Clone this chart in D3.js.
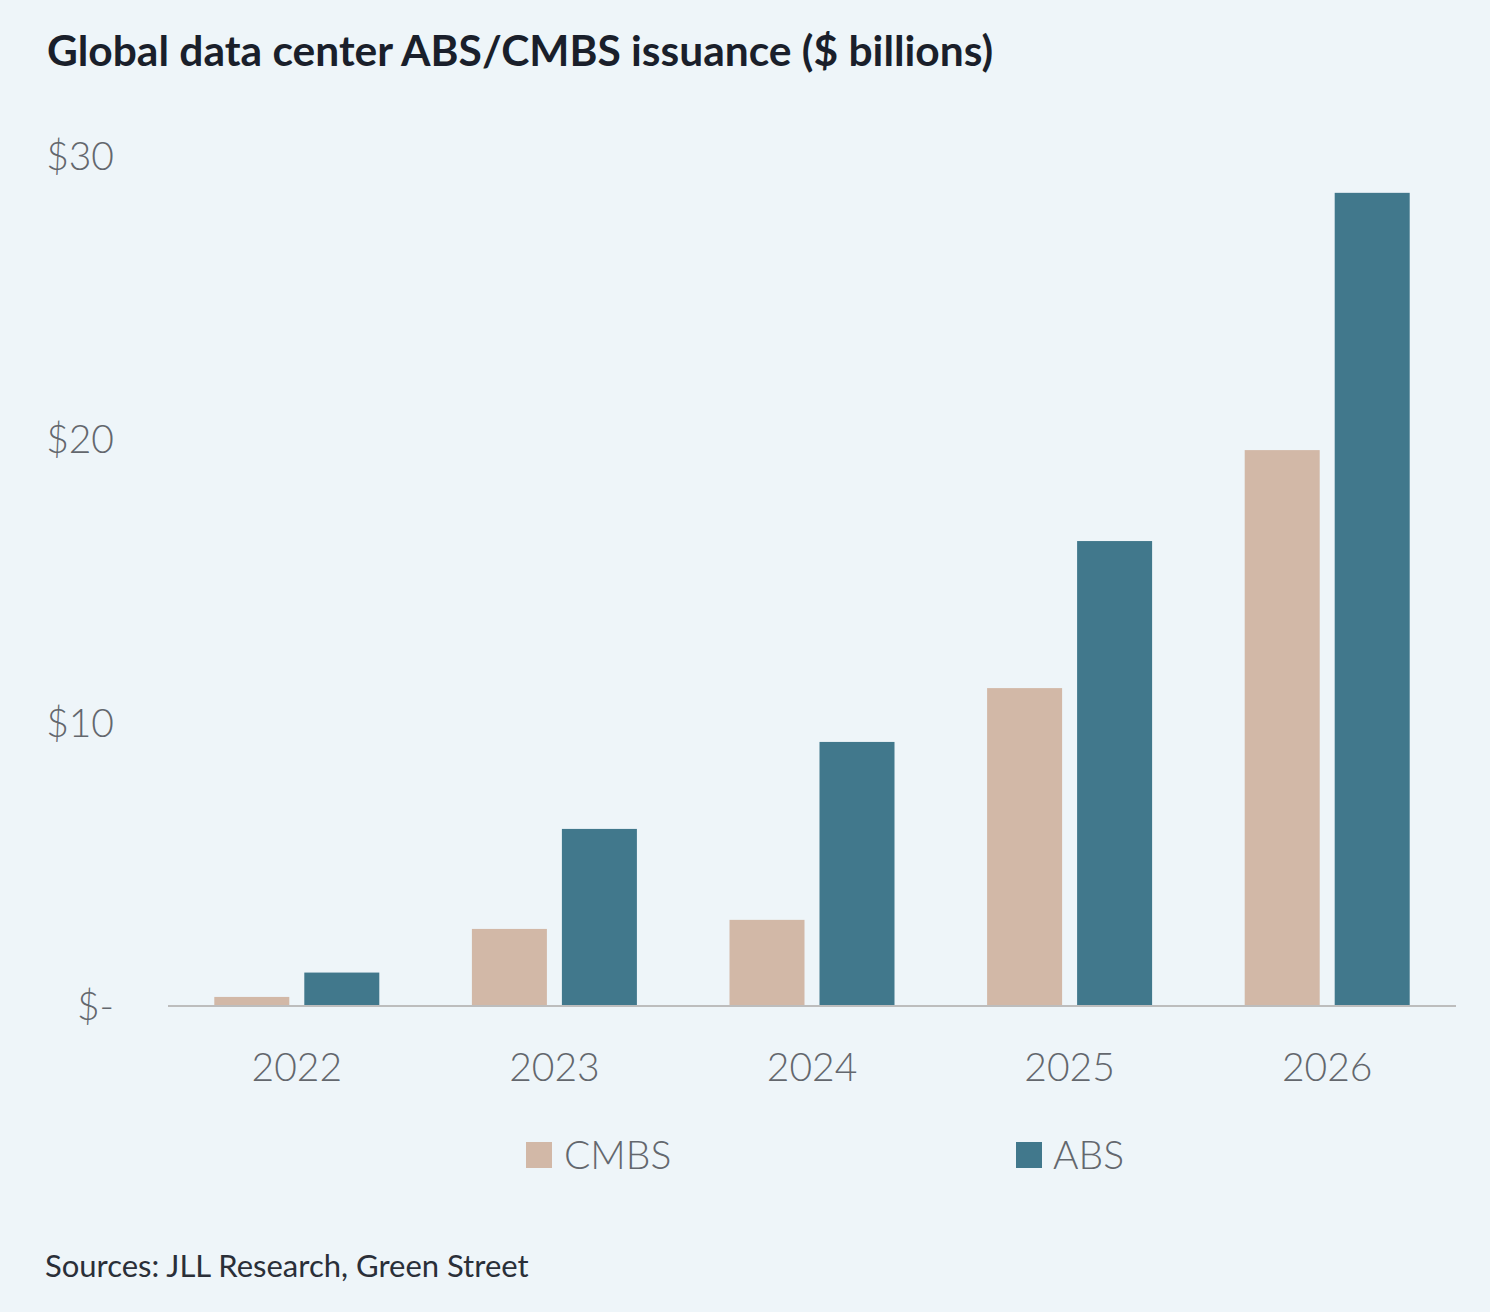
<!DOCTYPE html>
<html>
<head>
<meta charset="utf-8">
<script src="https://cdn.jsdelivr.net/npm/d3@7"></script>
<style>
  html, body { margin: 0; padding: 0; background: #eef5f9; }
  svg { display: block; }
</style>
</head>
<body>
<svg id="chart" width="1490" height="1312"></svg>
<script>
const years = ["2022", "2023", "2024", "2025", "2026"];
const seriesNames = ["CMBS", "ABS"];
const cmbsValues = [0.32, 2.72, 3.04, 11.22, 19.62];
const absValues = [1.18, 6.25, 9.32, 16.41, 28.7];
const yTicks = [0, 10, 20, 30];
const titleText = "Global data center ABS/CMBS issuance ($ billions)";
const sourceText = "Sources: JLL Research, Green Street";

const colors = { CMBS: "#d2b8a7", ABS: "#41788c" };
const font = "Lato, 'Noto Sans', sans-serif";

const svg = d3.select("#chart");
svg.append("rect").attr("width", 1490).attr("height", 1312).attr("fill", "#eef5f9");

const rows = years.map((y, i) => ({ year: y, CMBS: cmbsValues[i], ABS: absValues[i] }));

const x0 = d3.scaleBand().domain(years).range([168, 1456]).padding(0);
const groupW = 165;
const x1 = d3.scaleBand().domain(seriesNames)
  .range([(x0.bandwidth() - groupW) / 2, (x0.bandwidth() + groupW) / 2])
  .paddingInner(15 / 90).paddingOuter(0);
const y = d3.scaleLinear().domain([0, 30]).range([1006, 156]);

// title
svg.append("text").attr("x", 47).attr("y", 66)
  .attr("font-family", font).attr("font-weight", 700).attr("font-size", 42.5)
  .attr("fill", "#1a1f2b").text(titleText);

// bars
const g = svg.append("g");
g.selectAll("g.grp").data(rows).join("g").attr("class", "grp")
  .attr("transform", d => `translate(${x0(d.year)},0)`)
  .selectAll("rect").data(d => seriesNames.map(k => ({ key: k, value: d[k] }))).join("rect")
  .attr("x", d => x1(d.key)).attr("width", x1.bandwidth())
  .attr("y", d => y(d.value)).attr("height", d => y(0) - y(d.value))
  .attr("fill", d => colors[d.key]);

// baseline
svg.append("line").attr("x1", 168).attr("x2", 1456).attr("y1", y(0)).attr("y2", y(0))
  .attr("stroke", "#bdbdbd").attr("stroke-width", 2);

// y axis
const yAxis = d3.axisLeft(y).tickValues(yTicks).tickSize(0).tickPadding(0)
  .tickFormat(d => d === 0 ? "$-" : "$" + d);
const ya = svg.append("g").attr("transform", "translate(114,0)").call(yAxis);
ya.select(".domain").remove();
ya.selectAll("text").attr("font-family", font).attr("font-weight", 300)
  .attr("font-size", 39).attr("fill", "#63676d").attr("dy", "0.35em");

// x axis
const xAxis = d3.axisBottom(x0).tickSize(0).tickPadding(0);
const xa = svg.append("g").attr("transform", "translate(0,1081)").call(xAxis);
xa.select(".domain").remove();
xa.selectAll("text").attr("font-family", font).attr("font-weight", 300)
  .attr("font-size", 39).attr("fill", "#63676d").attr("dy", 0);

// legend
const legendItems = [{ key: "CMBS", x: 526, tx: 564 }, { key: "ABS", x: 1016, tx: 1053 }];
const lg = svg.append("g");
legendItems.forEach(it => {
  lg.append("rect").attr("x", it.x).attr("y", 1142).attr("width", 26).attr("height", 26)
    .attr("fill", colors[it.key]);
  lg.append("text").attr("x", it.tx).attr("y", 1169)
    .attr("font-family", font).attr("font-weight", 300).attr("font-size", 39)
    .attr("fill", "#63676d").text(it.key);
});

// source
svg.append("text").attr("x", 45).attr("y", 1277)
  .attr("font-family", font).attr("font-weight", 400).attr("font-size", 31)
  .attr("fill", "#2a2f38").text(sourceText);
</script>
</body>
</html>
